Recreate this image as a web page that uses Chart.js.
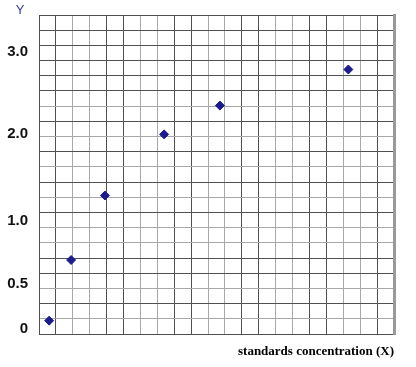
<!DOCTYPE html>
<html>
<head>
<meta charset="utf-8">
<script src="https://cdn.jsdelivr.net/npm/chart.js@4"></script>
<style>body{margin:0;background:#fff}</style>
</head>
<body>
<canvas id="myChart" width="416" height="367"></canvas>
<script>
var xValues = [0.6, 1.9, 3.9, 7.4, 10.7, 18.3];
var yValues = [0.09, 0.69, 1.29, 1.99, 2.34, 2.78];
var yTickValues = [0, 0.5, 1.0, 2.0, 3.0];
var yTickLabels = ['0', '0.5', '1.0', '2.0', '3.0'];
var gridCells = 21;
var xTitle = 'standards concentration (X)';
var yTitle = 'Y';

// the y labels in the picture are not evenly spaced, so the y scale is piecewise
var yBreakRows = [0.35, 3.29, 7.45, 13.2, 18.6];
var darkRows = [0, 2, 4, 5, 8, 10, 12, 14, 16, 17, 18, 19, 20, 21];
var dark = '#505050', light = '#a8a8a8';

class PiecewiseScale extends Chart.LinearScale {
    getPixelForValue(value) {
        var v = yTickValues, r = yBreakRows, i = 1;
        while (i < v.length - 1 && value > v[i]) i++;
        var row = r[i - 1] + (value - v[i - 1]) * (r[i] - r[i - 1]) / (v[i] - v[i - 1]);
        return this.getPixelForDecimal(row / gridCells);
    }
}
PiecewiseScale.id = 'piecewise';
PiecewiseScale.defaults = {};
Chart.register(PiecewiseScale);

var yTitlePlugin = {
    id: 'yTitle',
    afterDraw: function (chart) {
        var c = chart.ctx, a = chart.chartArea;
        c.save();
        c.font = '13px "Liberation Sans"';
        c.fillStyle = '#3b3b9c';
        c.textAlign = 'center';
        c.textBaseline = 'middle';
        c.fillText(yTitle, a.left - 19, a.top - 5);
        c.restore();
    }
};

function noPad(s) {
    s.paddingTop = 0; s.paddingBottom = 0; s.paddingLeft = 0; s.paddingRight = 0;
}

var ctx = document.getElementById('myChart').getContext('2d');
var chart = new Chart(ctx, {
    type: 'scatter',
    data: {
        datasets: [{
            data: xValues.map(function (x, i) { return {x: x, y: yValues[i]}; }),
            pointStyle: 'rectRot',
            pointRadius: 4.5,
            backgroundColor: '#1c1c8c',
            borderColor: '#1c1c8c',
            borderWidth: 1
        }]
    },
    options: {
        responsive: false,
        animation: false,
        layout: {padding: {top: 15, right: 22}},
        plugins: {legend: {display: false}, tooltip: {enabled: false}},
        scales: {
            x: {
                type: 'linear', min: 0, max: gridCells,
                ticks: {display: false, stepSize: 1, maxTicksLimit: 50},
                grid: {color: function (c) { return c.index % 4 < 2 ? dark : light; }, drawTicks: false},
                border: {color: dark},
                title: {
                    display: true, text: xTitle, align: 'end', color: '#000',
                    font: {family: 'Liberation Serif', weight: 'bold', size: 13},
                    padding: {top: 0, bottom: 8}
                },
                afterFit: function (s) { s.height = 33; noPad(s); }
            },
            y: {
                type: 'piecewise', position: 'left', min: 0, max: 3.4,
                grid: {display: false, drawTicks: false},
                border: {color: dark},
                ticks: {
                    padding: 11, color: '#111',
                    font: {family: 'Liberation Sans', weight: 'bold', size: 15},
                    callback: function (v, i) { return yTickLabels[i]; }
                },
                afterBuildTicks: function (s) { s.ticks = yTickValues.map(function (v) { return {value: v}; }); },
                afterFit: function (s) { s.width = 39; noPad(s); }
            },
            yGrid: {
                type: 'linear', position: 'right', min: 0, max: gridCells,
                ticks: {display: false, stepSize: 1, maxTicksLimit: 50},
                grid: {color: function (c) { return darkRows.indexOf(c.index) >= 0 ? dark : light; }, drawTicks: false},
                border: {color: '#999', width: 3},
                afterFit: function (s) { s.width = 0; noPad(s); }
            }
        }
    },
    plugins: [yTitlePlugin]
});
</script>
</body>
</html>
